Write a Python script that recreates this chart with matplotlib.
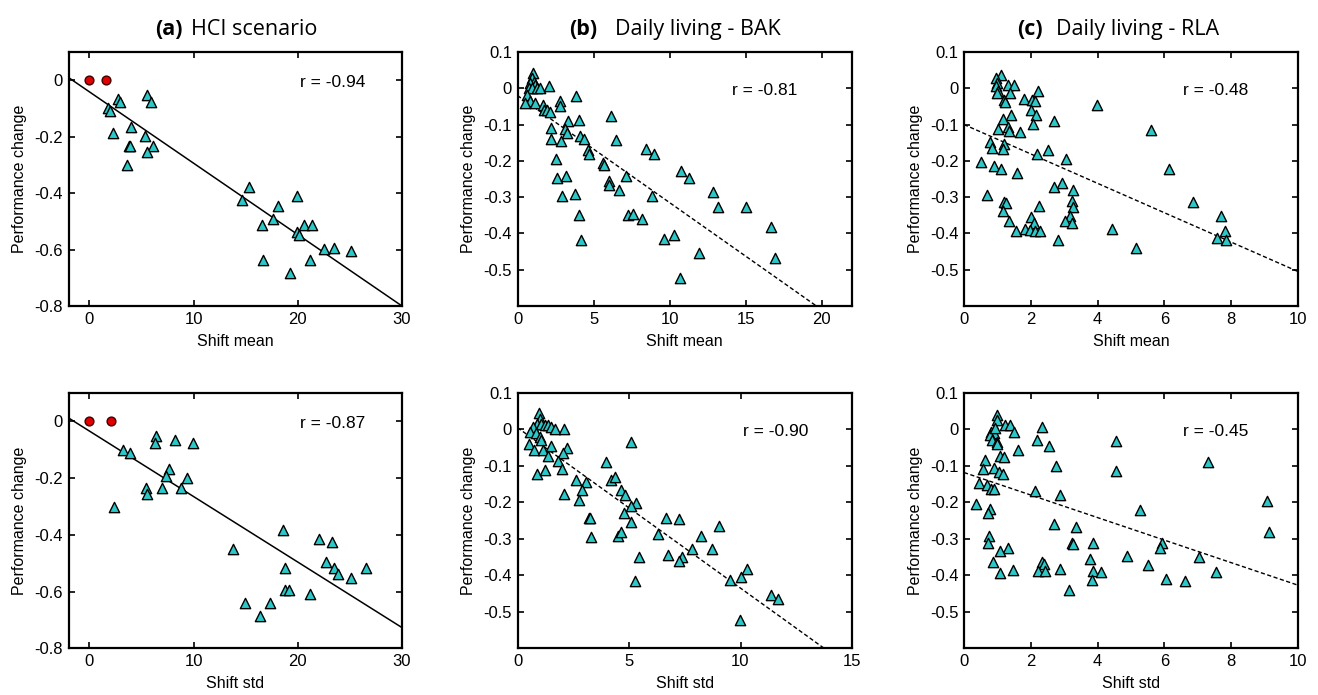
import matplotlib
matplotlib.use("Agg")
import matplotlib.pyplot as plt
import numpy as np

plt.rcParams['font.family'] = ['Liberation Sans', 'DejaVu Sans']
plt.rcParams['axes.unicode_minus'] = False

# ---------------- data ----------------
# (a) HCI scenario - shift mean
a_mean_x = [2.79, 2.95, 1.76, 1.99, 5.51, 5.92, 2.24, 4.0, 5.32, 3.84, 3.9, 6.12, 5.54, 3.59,
            15.34, 14.63, 18.06, 19.92, 17.58, 16.55, 20.62, 21.39, 19.92, 20.08, 22.54, 23.44,
            25.10, 16.65, 21.13, 19.28]
a_mean_y = [-0.065, -0.077, -0.100, -0.110, -0.053, -0.077, -0.187, -0.165, -0.198, -0.232, -0.234,
            -0.233, -0.255, -0.300, -0.378, -0.425, -0.447, -0.411, -0.493, -0.514, -0.514, -0.514,
            -0.538, -0.549, -0.597, -0.594, -0.605, -0.638, -0.638, -0.683]
a_mean_red_x = [0.0, 1.6]
a_mean_red_y = [0.0, 0.0]
a_mean_fit = [-0.0253, -0.041]   # slope, intercept
a_mean_r = "r = -0.94"

# (a) HCI scenario - shift std
a_std_x = [6.40, 6.31, 8.23, 9.96, 3.27, 3.91, 7.68, 7.36, 9.41, 5.44, 5.54, 6.95, 8.77, 2.37,
           18.54, 13.83, 22.06, 23.31, 22.73, 23.5, 23.82, 25.1, 26.58, 18.8, 18.8, 19.18, 21.2,
           14.89, 17.29, 16.33]
a_std_y = [-0.053, -0.077, -0.065, -0.077, -0.100, -0.110, -0.167, -0.192, -0.201, -0.236, -0.257,
           -0.236, -0.236, -0.303, -0.383, -0.450, -0.415, -0.426, -0.495, -0.517, -0.538, -0.551,
           -0.517, -0.517, -0.595, -0.595, -0.607, -0.640, -0.640, -0.686]
a_std_red_x = [0.0, 2.05]
a_std_red_y = [0.0, 0.0]
a_std_fit = [-0.0231, -0.034]
a_std_r = "r = -0.87"

# (b) Daily living - BAK - shift mean
b_mean_x = [1.03, 0.96, 1.07, 0.85, 1.18, 0.74, 0.95, 1.29, 1.5, 2.1, 0.63, 0.85, 1.18, 0.52, 1.68,
            1.72, 1.94, 2.16, 2.77, 2.77, 3.86, 3.3, 4.02, 6.14, 2.23, 3.14, 3.25, 2.2, 2.86, 4.13,
            4.35, 6.46, 4.63, 4.72, 8.43, 8.97, 2.55, 5.61, 5.66, 2.62, 3.21, 7.16, 6.05, 6.0, 6.66,
            10.76, 11.29, 2.93, 3.76, 8.84, 12.88, 13.21, 15.0, 4.06, 7.27, 7.62, 8.21, 16.7, 9.61,
            10.28, 4.19, 11.92, 16.92, 10.7]
b_mean_y = [0.041, 0.027, 0.018, 0.014, 0.009, 0.0, 0.0, 0.0, 0.002, 0.005, -0.018, -0.036, -0.041,
            -0.041, -0.046, -0.059, -0.061, -0.064, -0.036, -0.050, -0.021, -0.089, -0.087, -0.075,
            -0.109, -0.111, -0.123, -0.140, -0.146, -0.132, -0.139, -0.142, -0.169, -0.181, -0.167,
            -0.180, -0.194, -0.205, -0.212, -0.246, -0.242, -0.242, -0.255, -0.266, -0.280, -0.228,
            -0.246, -0.297, -0.292, -0.297, -0.287, -0.328, -0.328, -0.349, -0.349, -0.347, -0.360,
            -0.381, -0.415, -0.404, -0.418, -0.454, -0.467, -0.523]
b_mean_fit = [-0.0295, -0.020]
b_mean_r = "r = -0.81"

# (b) Daily living - BAK - shift std
b_std_x = [0.95, 0.99, 0.88, 1.07, 0.69, 1.22, 1.37, 1.52, 1.68, 2.1, 0.58, 0.84, 0.99, 1.07, 0.5,
           0.73, 1.14, 1.49, 1.37, 2.21, 2.06, 1.8, 1.98, 0.87, 1.22, 5.11, 3.99, 4.19, 4.38, 2.62,
           3.05, 2.87, 2.1, 2.74, 4.65, 4.8, 5.3, 5.08, 4.76, 5.09, 3.2, 3.25, 3.31, 4.5, 4.62, 6.3,
           6.65, 7.26, 9.02, 8.23, 7.82, 8.7, 5.46, 6.77, 7.38, 7.26, 5.27, 9.54, 10.0, 10.3, 11.37,
           11.68, 9.98]
b_std_y = [0.044, 0.030, 0.016, 0.016, 0.007, 0.012, 0.012, 0.007, 0.0, 0.001, -0.006, -0.011,
           -0.020, -0.029, -0.040, -0.056, -0.056, -0.046, -0.073, -0.050, -0.064, -0.086, -0.108,
           -0.122, -0.111, -0.034, -0.088, -0.138, -0.131, -0.138, -0.143, -0.166, -0.178, -0.193,
           -0.166, -0.179, -0.202, -0.211, -0.228, -0.255, -0.243, -0.244, -0.295, -0.291, -0.280,
           -0.286, -0.243, -0.245, -0.264, -0.293, -0.328, -0.328, -0.350, -0.344, -0.350, -0.360,
           -0.416, -0.412, -0.404, -0.382, -0.454, -0.464, -0.523]
b_std_fit = [-0.044, 0.005]
b_std_r = "r = -0.90"

# (c) Daily living - RLA - shift mean
c_mean_x = [1.12, 0.97, 0.99, 0.97, 1.02, 0.99, 1.2, 1.24, 1.32, 1.5, 1.37, 2.22, 1.8, 2.05, 2.12,
            2.02, 2.15, 2.07, 1.4, 1.17, 1.02, 1.32, 1.34, 1.69, 2.7, 3.97, 5.59, 0.77, 0.84, 1.19,
            1.17, 0.52, 0.9, 1.12, 1.59, 2.5, 2.2, 3.05, 6.14, 2.92, 2.7, 3.27, 0.69, 1.2, 1.27,
            1.17, 1.34, 2.25, 3.22, 3.27, 3.17, 3.02, 3.22, 2.02, 2.09, 1.57, 1.82, 1.97, 2.12,
            2.27, 2.8, 4.42, 5.14, 6.87, 7.7, 7.8, 7.57, 7.84]
c_mean_y = [0.036, 0.027, 0.014, 0.005, -0.007, -0.014, -0.032, -0.038, 0.009, 0.009, -0.014,
            -0.007, -0.030, -0.032, -0.035, -0.059, -0.073, -0.099, -0.073, -0.085, -0.111, -0.108,
            -0.119, -0.121, -0.089, -0.046, -0.114, -0.148, -0.164, -0.153, -0.167, -0.203, -0.214,
            -0.222, -0.233, -0.169, -0.182, -0.196, -0.222, -0.260, -0.272, -0.280, -0.293, -0.313,
            -0.315, -0.338, -0.365, -0.324, -0.310, -0.326, -0.351, -0.365, -0.370, -0.354, -0.372,
            -0.394, -0.388, -0.391, -0.392, -0.392, -0.417, -0.388, -0.440, -0.313, -0.351, -0.392,
            -0.413, -0.417]
c_mean_fit = [-0.0405, -0.100]
c_mean_r = "r = -0.48"

# (c) Daily living - RLA - shift std
c_std_x = [1.0, 0.98, 0.82, 0.9, 0.78, 0.85, 0.98, 1.0, 0.93, 1.24, 1.38, 1.49, 1.63, 2.33, 2.18,
           2.53, 2.76, 4.56, 4.55, 7.32, 1.09, 1.19, 0.63, 0.57, 0.9, 1.06, 1.16, 0.45, 0.7, 0.8,
           0.9, 2.13, 2.86, 0.37, 0.78, 0.72, 5.28, 2.69, 3.34, 0.75, 0.72, 1.31, 1.09, 3.24, 3.27,
           3.85, 5.93, 5.86, 7.04, 4.89, 3.77, 5.51, 0.88, 1.09, 1.46, 2.33, 2.41, 2.21, 2.43, 2.88,
           3.87, 4.09, 3.82, 3.14, 6.05, 6.61, 7.55, 9.06, 9.12]
c_std_y = [0.039, 0.027, -0.006, -0.011, -0.015, -0.029, -0.034, -0.040, 0.003, 0.012, 0.012,
           -0.006, -0.056, 0.007, -0.029, -0.046, -0.099, -0.032, -0.113, -0.088, -0.073, -0.075,
           -0.084, -0.109, -0.107, -0.116, -0.122, -0.148, -0.152, -0.163, -0.163, -0.168, -0.181,
           -0.205, -0.218, -0.230, -0.220, -0.260, -0.268, -0.293, -0.311, -0.325, -0.334, -0.310,
           -0.313, -0.310, -0.310, -0.325, -0.350, -0.348, -0.354, -0.371, -0.363, -0.393, -0.384,
           -0.363, -0.368, -0.387, -0.387, -0.383, -0.389, -0.392, -0.413, -0.439, -0.410, -0.416,
           -0.390, -0.195, -0.280]
c_std_fit = [-0.0309, -0.118]
c_std_r = "r = -0.45"

# ---------------- figure ----------------
W, H = 1318, 695
fig = plt.figure(figsize=(W / 100, H / 100), dpi=100)

lefts = [68.5, 517.5, 964]
widths = [333.5, 334.5, 334]
rows = [(52, 306), (393, 648.3)]

tri_face = '#2cc8c8'


def make_ax(col, row):
    l = lefts[col]
    t, b = rows[row]
    return fig.add_axes([l / W, 1 - b / H, widths[col] / W, (b - t) / H])


panels = [
    (0, 0, a_mean_x, a_mean_y, a_mean_red_x, a_mean_red_y, a_mean_fit, a_mean_r,
     (-2, 30), (-0.8, 0.1), [0, 10, 20, 30], [0, -0.2, -0.4, -0.6, -0.8], 'Shift mean', False, (0.89, 0.88)),
    (0, 1, a_std_x, a_std_y, a_std_red_x, a_std_red_y, a_std_fit, a_std_r,
     (-2, 30), (-0.8, 0.1), [0, 10, 20, 30], [0, -0.2, -0.4, -0.6, -0.8], 'Shift std', False, (0.89, 0.88)),
    (1, 0, b_mean_x, b_mean_y, None, None, b_mean_fit, b_mean_r,
     (0, 22), (-0.6, 0.1), [0, 5, 10, 15, 20], [0.1, 0, -0.1, -0.2, -0.3, -0.4, -0.5], 'Shift mean', True, (0.836, 0.85)),
    (1, 1, b_std_x, b_std_y, None, None, b_std_fit, b_std_r,
     (0, 15), (-0.6, 0.1), [0, 5, 10, 15], [0.1, 0, -0.1, -0.2, -0.3, -0.4, -0.5], 'Shift std', True, (0.87, 0.848)),
    (2, 0, c_mean_x, c_mean_y, None, None, c_mean_fit, c_mean_r,
     (0, 10), (-0.6, 0.1), [0, 2, 4, 6, 8, 10], [0.1, 0, -0.1, -0.2, -0.3, -0.4, -0.5], 'Shift mean', True, (0.85, 0.85)),
    (2, 1, c_std_x, c_std_y, None, None, c_std_fit, c_std_r,
     (0, 10), (-0.6, 0.1), [0, 2, 4, 6, 8, 10], [0.1, 0, -0.1, -0.2, -0.3, -0.4, -0.5], 'Shift std', True, (0.85, 0.848)),
]


def fmt(v):
    return '%g' % v


for (col, row, x, y, rx, ry, fit, rtxt, xlim, ylim, xt, yt, xlabel, dashed, rpos) in panels:
    ax = make_ax(col, row)
    xs = np.array(xlim, dtype=float)
    ls = (0, (3, 1.8)) if dashed else '-'
    ax.plot(xs, fit[0] * xs + fit[1], color='black', lw=1.1 if not dashed else 1.0, ls=ls, zorder=2)
    ax.scatter(x, y, marker='^', s=55, facecolor=tri_face, edgecolor='black', linewidth=1.0, zorder=3)
    if rx is not None:
        ax.scatter(rx, ry, marker='o', s=40, facecolor='#e00000', edgecolor='#400000', linewidth=1.0, zorder=3)
    ax.set_xlim(*xlim)
    ax.set_ylim(*ylim)
    ax.set_xticks(xt)
    ax.set_xticklabels([fmt(v) for v in xt])
    ax.set_yticks(yt)
    ax.set_yticklabels([fmt(v) for v in yt])
    ax.tick_params(direction='in', top=True, right=True, length=4, width=1.2, labelsize=12, pad=4)
    for sp in ax.spines.values():
        sp.set_linewidth(1.6)
    ax.set_xlabel(xlabel, fontsize=11.5, labelpad=5)
    ax.set_ylabel('Performance change', fontsize=11.5, labelpad=5)
    ax.text(rpos[0], rpos[1], rtxt, transform=ax.transAxes, ha='right', va='center', fontsize=12.5)

# titles
titles = [("(a)", "HCI scenario", 183, 191),
          ("(b)", "Daily living - BAK", 597, 615),
          ("(c)", "Daily living - RLA", 1043, 1056)]
ty = 1 - 35 / H
for bold, rest, xe, xs_ in titles:
    fig.text(xe / W, ty, bold, ha='right', va='baseline', fontsize=15.5, fontweight='bold',
             family=['Open Sans', 'DejaVu Sans'])
    fig.text(xs_ / W, ty, rest, ha='left', va='baseline', fontsize=15.5,
             family=['Open Sans', 'DejaVu Sans'])

fig.savefig('out.png', dpi=100)
